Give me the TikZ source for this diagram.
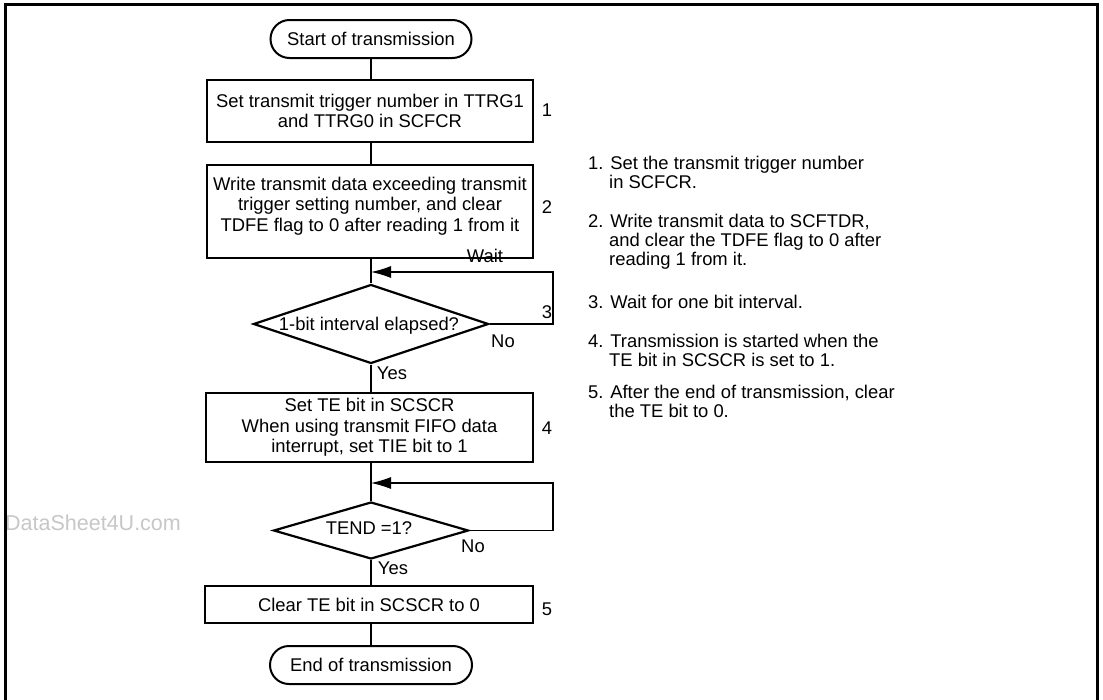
\documentclass[tikz,border=0pt]{standalone}
\usepackage{fontspec}
\setmainfont{Liberation Sans}
\usetikzlibrary{shapes.geometric,arrows.meta}
\begin{document}
\begin{tikzpicture}[x=1pt,y=-1pt,
  every node/.style={font=\fontsize{18.4}{20.5}\selectfont, inner sep=0pt},
  term/.style={draw, line width=2pt, rounded corners=19pt, rectangle, align=center},
  proc/.style={draw, line width=2.2pt, rectangle, align=center},
  dec/.style={draw, line width=2.2pt, diamond},
  conn/.style={line width=1.1pt},
  arr/.style={conn, -{Latex[length=20pt,width=12pt]}},
  txt/.style={anchor=base west},
  wmark/.style={anchor=west, text=black!22, font=\fontsize{21.5}{24}\selectfont}]
\useasboundingbox (0,0) rectangle (1103,699);
\fill[white] (0,0) rectangle (1103,699);
% watermark
\node[wmark] (wm) at (5,523) {DataSheet4U.com};
% frame
\draw[line width=3pt] (5,720) -- (5,4) -- (1097,4) -- (1097,720);
% axis
\coordinate (ax) at (371,0);
% nodes
\node[term, minimum width=201pt, minimum height=38pt] (start) at (371,39) {Start of transmission};
\node[proc, minimum width=326pt, minimum height=62pt] (b1) at (370,111) {Set transmit trigger number in TTRG1\\and TTRG0 in SCFCR};
\node[proc, minimum width=326pt, minimum height=93pt] (b2) at (370,211.5) {};
\node[align=center] (b2t) at (370,206) {Write transmit data exceeding transmit\\trigger setting number, and clear\\TDFE flag to 0 after reading 1 from it};
\node[dec, minimum width=235pt, minimum height=79pt] (d1) at (371,324) {};
\node (t1) at (369,326) {1-bit interval elapsed?};
\node[proc, minimum width=327pt, minimum height=69pt] (b4) at (369.5,427.5) {Set TE bit in SCSCR\\When using transmit FIFO data\\interrupt, set TIE bit to 1};
\node[dec, minimum width=195pt, minimum height=57pt] (d2) at (371,530.5) {};
\node (t2) at (369,528) {TEND =1?};
\node[proc, minimum width=328pt, minimum height=37pt] (b5) at (369,604.5) {Clear TE bit in SCSCR to 0};
\node[term, minimum width=202pt, minimum height=38pt] (end) at (371,665) {End of transmission};
% connectors
\coordinate (c1) at (553,272);
\coordinate (c2) at (553,483);
\draw[conn] (ax |- start.south) -- (ax |- b1.north);
\draw[conn] (ax |- b1.south) -- (ax |- b2.north);
\draw[conn] (ax |- b2.south) -- (d1.north);
\draw[arr] (d1.east) -| (c1) -- (ax |- c1);
\draw[conn] (d1.south) -- (ax |- b4.north);
\draw[conn] (ax |- b4.south) -- (d2.north);
\draw[arr] (d2.east) -| (c2) -- (ax |- c2);
\draw[conn] (d2.south) -- (ax |- b5.north);
\draw[conn] (ax |- b5.south) -- (end.north);
% labels
\node (wait) at (485,256) {Wait};
\node (no1) at (503,341) {No};
\node (yes1) at (392,373) {Yes};
\node (no2) at (473,546) {No};
\node (yes2) at (393,568) {Yes};
\node (n1) at (547,110) {1};
\node (n2) at (547,207) {2};
\node (n3) at (547,312) {3};
\node (n4) at (547,428) {4};
\node (n5) at (547,609) {5};
% notes
\node[txt] (p1a) at (588,169.5) {1. Set the transmit trigger number};
\node[txt] (p1b) at (609,188.5) {in SCFCR.};
\node[txt] (p2a) at (588,227.5) {2. Write transmit data to SCFTDR,};
\node[txt] (p2b) at (609,246.5) {and clear the TDFE flag to 0 after};
\node[txt] (p2c) at (609,265.5) {reading 1 from it.};
\node[txt] (p3a) at (588,308.5) {3. Wait for one bit interval.};
\node[txt] (p4a) at (588,347.5) {4. Transmission is started when the};
\node[txt] (p4b) at (609,366.5) {TE bit in SCSCR is set to 1.};
\node[txt] (p5a) at (588,398.5) {5. After the end of transmission, clear};
\node[txt] (p5b) at (609,417.5) {the TE bit to 0.};
\end{tikzpicture}
\end{document}
